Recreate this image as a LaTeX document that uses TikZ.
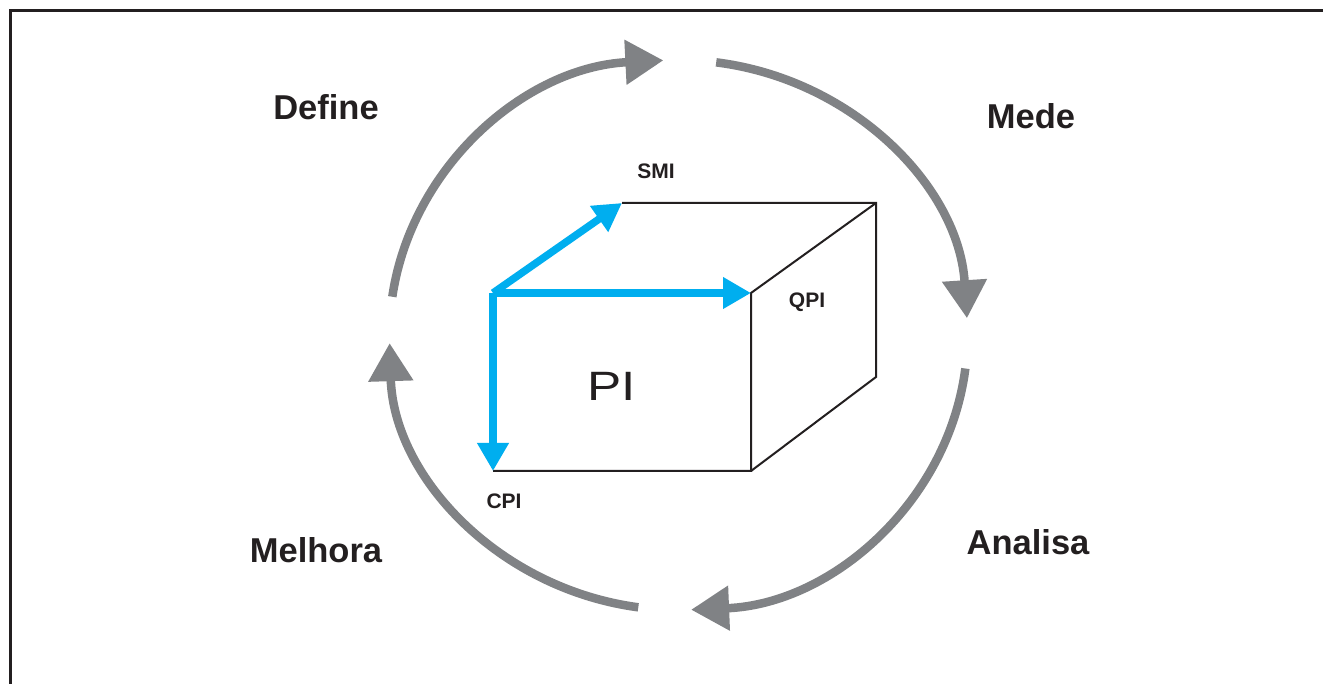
\documentclass[tikz,border=0pt]{standalone}
\usepackage{fontspec}
\setmainfont{Liberation Sans}
\usetikzlibrary{arrows.meta}
\definecolor{cyclegray}{HTML}{808285}
\definecolor{axisblue}{HTML}{00AEEF}
\definecolor{framecol}{HTML}{231F20}
\tikzset{
  cyclearc/.style={draw=cyclegray, line width=8.5pt, -{Triangle[length=38pt,width=43pt]}},
  axisarrow/.style={draw=axisblue, line width=7.5pt, -{Triangle[length=28pt,width=30pt]}},
  cubeedge/.style={draw=framecol, line width=2pt, line join=miter},
  phaselabel/.style={font=\fontsize{34.5}{40}\selectfont\bfseries, text=framecol, inner sep=0pt},
  axislabel/.style={font=\fontsize{21}{25}\selectfont\bfseries, text=framecol, inner sep=0pt},
  centerlabel/.style={font=\fontsize{41}{48}\selectfont, text=framecol, inner sep=0pt, xscale=1.25}
}
\begin{document}
\begin{tikzpicture}[x=1pt,y=1pt]
\useasboundingbox (0,0) rectangle (1323,683);
\clip (0,0) rectangle (1323,683);
\fill[white] (0,0) rectangle (1323,683);
% frame (only left and top visible)
\draw[framecol, line width=3pt] (10.5,-10) -- (10.5,672.5) -- (1340,672.5);
% cycle
\coordinate (ctr) at (678.5,348);
\draw[cyclearc] (ctr) ++(172:289 and 275) arc[start angle=172, end angle=93, x radius=289, y radius=275];
\draw[cyclearc] (ctr) ++(82.5:289 and 275) arc[start angle=82.5, end angle=3.5, x radius=289, y radius=275];
\draw[cyclearc] (ctr) ++(-7:289 and 275) arc[start angle=-7, end angle=-87.5, x radius=289, y radius=275];
\draw[cyclearc] (ctr) ++(-98:289 and 275) arc[start angle=-98, end angle=-178.3, x radius=289, y radius=275];
% cube corners
\coordinate (A) at (493,390);
\coordinate (B) at (751,390);
\coordinate (C) at (751,212);
\coordinate (D) at (493,212);
\coordinate (E) at (622,480);
\coordinate (F) at (876,480);
\coordinate (G) at (876,306);
\draw[cubeedge] (E) -- (F) -- (G) -- (C);
\draw[cubeedge] (F) -- (B) -- (C) -- (D);
\draw[axisarrow] (A) -- (E);
\draw[axisarrow] (A) -- (B);
\draw[axisarrow] (A) -- (D);
% labels
\node[phaselabel] (define) at (326,576) {Define};
\node[phaselabel] (mede) at (1031,567) {Mede};
\node[phaselabel] (analisa) at (1028,141) {Analisa};
\node[phaselabel] (melhora) at (316,133) {Melhora};
\node[axislabel] (smi) at (656,512) {SMI};
\node[axislabel] (qpi) at (807,381) {QPI};
\node[axislabel] (cpi) at (504,182) {CPI};
\node[centerlabel] (pi) at (612,297) {PI};
\end{tikzpicture}
\end{document}
